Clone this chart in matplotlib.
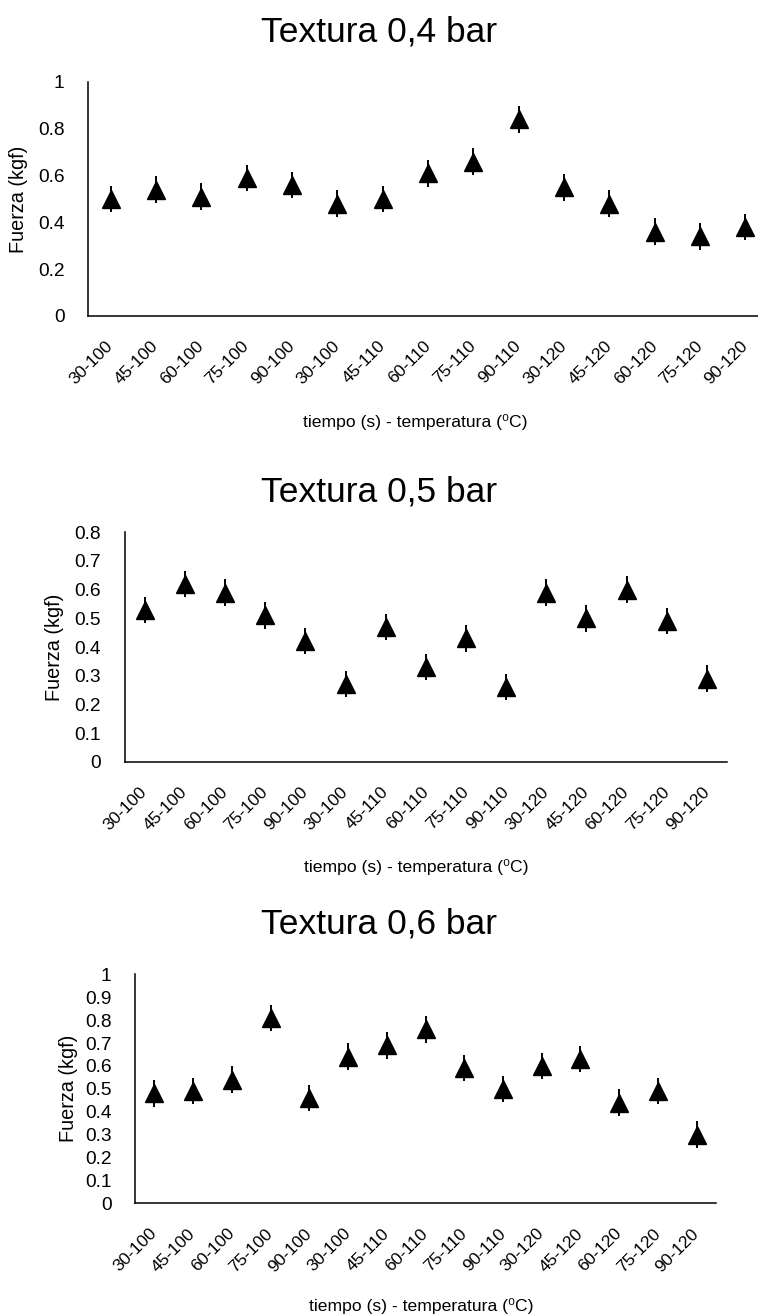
import numpy as np
import matplotlib
matplotlib.use("Agg")
import matplotlib.pyplot as plt
from matplotlib.ticker import FormatStrFormatter

plt.rcParams['font.family'] = ['Liberation Sans', 'DejaVu Sans']

# categorias: tiempo (s) - temperatura (C)
categorias = ['30-100', '45-100', '60-100', '75-100', '90-100',
              '30-100', '45-110', '60-110', '75-110', '90-110',
              '30-120', '45-120', '60-120', '75-120', '90-120']

# fuerza (kgf)
fuerza_04 = [0.50, 0.54, 0.51, 0.59, 0.56, 0.48, 0.50, 0.61, 0.66, 0.84,
             0.55, 0.48, 0.36, 0.34, 0.38]
fuerza_05 = [0.53, 0.62, 0.59, 0.51, 0.42, 0.27, 0.47, 0.33, 0.43, 0.26,
             0.59, 0.50, 0.60, 0.49, 0.29]
fuerza_06 = [0.48, 0.49, 0.54, 0.81, 0.46, 0.64, 0.69, 0.76, 0.59, 0.50,
             0.60, 0.63, 0.44, 0.49, 0.30]

# barras de error
error_04 = [0.057, 0.057, 0.057, 0.057, 0.057, 0.057, 0.057, 0.057, 0.057, 0.057,
            0.057, 0.057, 0.057, 0.057, 0.057]
error_05 = [0.046, 0.046, 0.046, 0.046, 0.046, 0.046, 0.046, 0.046, 0.046, 0.046,
            0.046, 0.046, 0.046, 0.046, 0.046]
error_06 = [0.058, 0.058, 0.058, 0.058, 0.058, 0.058, 0.058, 0.058, 0.058, 0.058,
            0.058, 0.058, 0.058, 0.058, 0.058]

W, H = 758, 1314
fig = plt.figure(figsize=(W / 100, H / 100), dpi=100)


def px_axes(left, top, right, bottom):
    # convierte pixeles de la imagen a fracciones de la figura
    return [left / W, 1 - bottom / H, (right - left) / W, (bottom - top) / H]


paneles = [
    # (datos, error, titulo, ymax, paso, caja px, xmax, titulo y, xlabel x, xlabel y, ylabel x)
    (fuerza_04, error_04, 'Textura 0,4 bar', 1.0, 0.2, (88, 82, 758, 316), 14.28, 42, 415, 427, 19),
    (fuerza_05, error_05, 'Textura 0,5 bar', 0.8, 0.1, (124.7, 532.3, 727, 761.7), 14.5, 502, 416, 872, 55),
    (fuerza_06, error_06, 'Textura 0,6 bar', 1.0, 0.1, (135, 974.3, 716, 1203.3), 14.5, 934, 421, 1311, 68),
]

x = np.arange(len(categorias))
for datos, err, titulo, ymax, paso, caja, xmax, ty, lx, ly, yx in paneles:
    ax = fig.add_axes(px_axes(*caja))
    ax.errorbar(x, datos, yerr=err, fmt='^', color='black', ecolor='black',
                markersize=13, elinewidth=1.4, capsize=0, zorder=3)
    ax.set_xlim(-0.5, xmax)
    ax.set_ylim(0, ymax)
    ax.set_yticks(np.arange(0, ymax + 1e-9, paso))
    ax.yaxis.set_major_formatter(FormatStrFormatter('%g'))
    ax.set_xticks(x)
    ax.set_xticklabels(categorias, rotation=45, ha='right', va='center',
                       rotation_mode='anchor')
    ax.tick_params(axis='x', length=0, pad=20, labelsize=12.5)
    ax.tick_params(axis='y', length=0, pad=17, labelsize=13.8)
    for s in ['top', 'right']:
        ax.spines[s].set_visible(False)
    for s in ['left', 'bottom']:
        ax.spines[s].set_linewidth(1.1)
        ax.spines[s].set_color('black')
    cy = (caja[1] + caja[3]) / 2
    fig.text(yx / W, 1 - cy / H, 'Fuerza (kgf)', rotation=90, ha='center',
             va='center', fontsize=14.3)
    fig.text(379 / W, 1 - ty / H, titulo, ha='center', va='baseline', fontsize=25.5)
    fig.text(lx / W, 1 - ly / H, 'tiempo (s) - temperatura (\u2070C)',
             ha='center', va='baseline', fontsize=12.6)

fig.savefig('out.png', dpi=100)
